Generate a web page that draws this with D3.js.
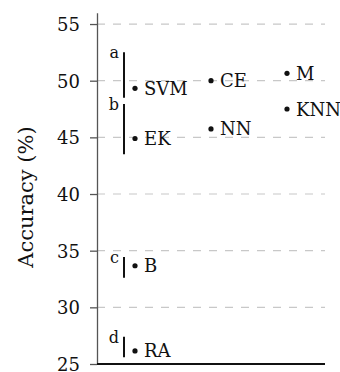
<!DOCTYPE html>
<html>
<head>
<meta charset="utf-8">
<script src="https://cdn.jsdelivr.net/npm/d3@7"></script>
<style>
body{margin:0;background:#fff;}
svg text{font-family:"DejaVu Serif",serif;fill:#111;}
</style>
</head>
<body>
<svg id="graph" width="340" height="372"></svg>
<script>
// methods, column (0..2) and accuracy
var methods=["SVM","EK","B","RA","CE","NN","M","KNN"];
var columns=[0,0,0,0,1,1,2,2];
var accuracy=[49.33,44.9,33.67,26.15,50.0,45.74,50.65,47.5];

// range brackets
var groups=["a","b","c","d"];
var groupLow=[48.5,43.5,32.6,25.6];
var groupHigh=[52.5,47.94,34.44,27.4];

var yTicks=[25,30,35,40,45,50,55];
var gridTicks=[30,35,40,45,50,55];

var screen={width:340,height:372};
var margin={left:97,right:15,top:12.7,bottom:8};

var svg=d3.select("#graph");

var xScale=d3.scaleLinear()
    .domain([0,3])
    .range([margin.left,screen.width-margin.right]);
var yScale=d3.scaleLinear()
    .domain([25,56])
    .range([screen.height-margin.bottom,margin.top]);

// grid
svg.append("g")
   .selectAll("line")
   .data(gridTicks)
   .enter()
   .append("line")
   .attr("x1",xScale(0))
   .attr("x2",xScale(3))
   .attr("y1",function(d){return yScale(d);})
   .attr("y2",function(d){return yScale(d);})
   .attr("stroke","#c8c8c8")
   .attr("stroke-width",1.2)
   .attr("stroke-dasharray","8,8");

// y axis
var yAxis=d3.axisLeft(yScale)
    .tickValues(yTicks)
    .tickSize(7)
    .tickPadding(10)
    .tickSizeOuter(0);

var ag=svg.append("g")
   .attr("transform","translate("+xScale(0)+",0)")
   .call(yAxis);
ag.select(".domain").attr("stroke","#555").attr("stroke-width",1.3);
ag.selectAll(".tick line").attr("stroke","#555").attr("stroke-width",1.3);
ag.selectAll(".tick text")
  .attr("font-size",18)
  .attr("font-family","DejaVu Serif")
  .attr("fill","#111")
  .attr("dy","0.36em");

// bottom line
svg.append("line")
   .attr("x1",xScale(0))
   .attr("x2",xScale(3))
   .attr("y1",yScale(25))
   .attr("y2",yScale(25))
   .attr("stroke","#111")
   .attr("stroke-width",1.8);

// axis title
svg.append("text")
   .attr("transform","translate(33,197) rotate(-90)")
   .attr("text-anchor","middle")
   .attr("font-size",21)
   .text("Accuracy (%)");

// brackets
var bx=xScale(0.5)-11;
svg.append("g")
   .selectAll("line")
   .data(groups)
   .enter()
   .append("line")
   .attr("x1",bx).attr("x2",bx)
   .attr("y1",function(d,i){return yScale(groupHigh[i]);})
   .attr("y2",function(d,i){return yScale(groupLow[i]);})
   .attr("stroke","#111")
   .attr("stroke-width",2);

svg.append("g")
   .selectAll("text")
   .data(groups)
   .enter()
   .append("text")
   .attr("x",bx-5)
   .attr("y",function(d,i){return yScale(groupHigh[i])+6;})
   .attr("text-anchor","end")
   .attr("font-size",16)
   .text(function(d){return d;});

// points
var pts=svg.append("g")
   .selectAll("g")
   .data(methods)
   .enter()
   .append("g")
   .attr("transform",function(d,i){
       return "translate("+xScale(columns[i]+0.5)+","+yScale(accuracy[i])+")";});

pts.append("circle")
   .attr("r",2.6)
   .attr("fill","#111");

pts.append("text")
   .attr("x",9)
   .attr("y",6.5)
   .attr("font-size",18)
   .text(function(d){return d;});
</script>
</body>
</html>
